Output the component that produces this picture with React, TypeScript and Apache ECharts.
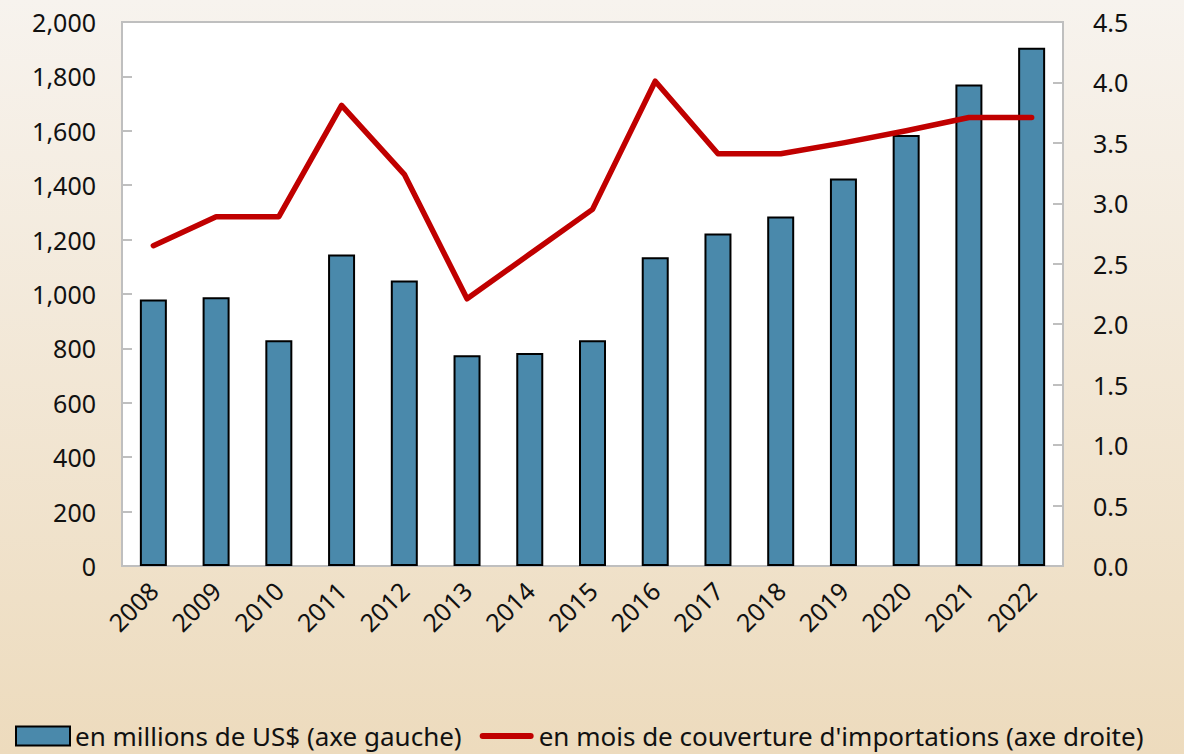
import React, { useEffect, useRef } from "react";
import * as echarts from "echarts";

const years = ["2008","2009","2010","2011","2012","2013","2014","2015","2016","2017","2018","2019","2020","2021","2022"];
const reservesUSD = [980, 988, 830, 1145, 1050, 775, 783, 830, 1135, 1222, 1285, 1425, 1585, 1770, 1905];
const monthsCover = [2.65, 2.89, 2.89, 3.81, 3.24, 2.21, 2.58, 2.95, 4.01, 3.41, 3.41, 3.5, 3.6, 3.71, 3.71];
const barName = "en millions de US$ (axe gauche)";
const lineName = "en mois de couverture d'importations (axe droite)";

export default function App() {
  const ref = useRef<HTMLDivElement>(null);
  useEffect(() => {
    document.body.style.margin = "0";
    const chart = echarts.init(ref.current!, null, { renderer: "svg" });
    const font = "Noto Sans";
    const gray = "#bfbfbf";
    chart.setOption({
      animation: false,
      backgroundColor: {
        type: "linear", x: 0, y: 0, x2: 0, y2: 1,
        colorStops: [
          { offset: 0, color: "#f7f3ee" },
          { offset: 1, color: "#eddbbd" },
        ],
      },
      textStyle: { fontFamily: font },
      grid: {
        left: 122, right: 121, top: 22, bottom: 188,
        show: true, backgroundColor: "#ffffff", borderColor: gray, borderWidth: 2,
      },
      legend: {
        top: 718, left: 10,
        itemWidth: 54, itemHeight: 19, itemGap: 18,
        symbolKeepAspect: true,
        textStyle: { fontSize: 26, color: "#111", fontFamily: font },
        data: [
          { name: barName, icon: "rect" },
          {
            name: lineName,
            icon: "path://M3,0 L51,0 A3,3 0 0 1 51,6 L3,6 A3,3 0 0 1 3,0 Z",
            itemStyle: { color: "#c00000", borderWidth: 0 },
          },
        ],
      },
      xAxis: {
        type: "category",
        data: years,
        boundaryGap: true,
        axisLine: { lineStyle: { color: gray, width: 2 } },
        axisTick: { inside: true, length: 7, lineStyle: { color: gray, width: 2 }, alignWithLabel: false },
        axisLabel: { rotate: 45, fontSize: 25, color: "#111", margin: 20, interval: 0 },
      },
      yAxis: [
        {
          type: "value", min: 0, max: 2000, interval: 200,
          axisLine: { show: true, lineStyle: { color: gray, width: 2 } },
          axisTick: { show: true, inside: true, length: 10, lineStyle: { color: gray, width: 2 } },
          splitLine: { show: false },
          axisLabel: {
            fontSize: 25, color: "#111", margin: 26,
            formatter: (v: number) => v.toLocaleString("en-US"),
          },
        },
        {
          type: "value", min: 0, max: 4.5, interval: 0.5,
          axisLine: { show: true, lineStyle: { color: gray, width: 2 } },
          axisTick: { show: true, inside: true, length: 10, lineStyle: { color: gray, width: 2 } },
          splitLine: { show: false },
          axisLabel: {
            fontSize: 25, color: "#111", margin: 30,
            formatter: (v: number) => v.toFixed(1),
          },
        },
      ],
      series: [
        {
          name: barName,
          type: "bar",
          data: reservesUSD,
          barWidth: 27,
          itemStyle: { color: "#4a89ab", borderColor: "#000", borderWidth: 2 },
        },
        {
          name: lineName,
          type: "line",
          yAxisIndex: 1,
          data: monthsCover,
          symbol: "none",
          lineStyle: { color: "#c00000", width: 5.5, cap: "round", join: "round" },
          itemStyle: { color: "#c00000" },
        },
      ],
    });
    return () => chart.dispose();
  }, []);
  return <div ref={ref} style={{ width: 1184, height: 754 }} />;
}
